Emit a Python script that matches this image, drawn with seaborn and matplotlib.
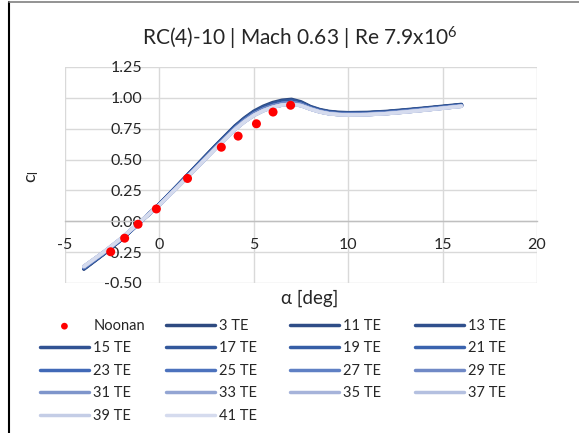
import matplotlib
matplotlib.use("Agg")
import matplotlib.pyplot as plt
import seaborn as sns
from matplotlib.lines import Line2D

# wind tunnel data (Noonan)
noonan_alpha = [-2.58, -1.84, -1.13, -0.16, 1.49, 3.28, 4.17, 5.14, 6.02, 6.95]
noonan_cl = [-0.247, -0.137, -0.024, 0.10, 0.347, 0.60, 0.69, 0.79, 0.885, 0.94]

# CFD lift curves for the trailing-edge refinement study
alpha = [-4, -3, -2, -1, 0, 1, 2, 3, 4, 4.5, 5, 5.5, 6, 6.5, 7, 7.5, 8,
         8.5, 9, 9.5, 10, 11, 12, 13, 14, 15, 16]
cl_3te = [-0.388, -0.272, -0.147, -0.006, 0.14, 0.297, 0.458, 0.618, 0.772,
          0.837, 0.892, 0.932, 0.962, 0.981, 0.988, 0.968, 0.93, 0.905, 0.89,
          0.883, 0.88, 0.882, 0.89, 0.903, 0.917, 0.932, 0.947]
cl_11_17te = [-0.383, -0.268, -0.145, -0.005, 0.139, 0.295, 0.454, 0.613, 0.766,
              0.83, 0.884, 0.923, 0.952, 0.971, 0.979, 0.96, 0.924, 0.9,
              0.885, 0.878, 0.876, 0.878, 0.886, 0.899, 0.913, 0.928, 0.943]
cl_19_29te = [-0.374, -0.262, -0.14, -0.003, 0.135, 0.288, 0.445, 0.602, 0.754,
              0.817, 0.871, 0.909, 0.937, 0.955, 0.963, 0.948, 0.916, 0.892,
              0.877, 0.87, 0.868, 0.87, 0.878, 0.891, 0.906, 0.921, 0.937]
cl_31_41te = [-0.366, -0.256, -0.136, -0.001, 0.132, 0.283, 0.438, 0.594, 0.744,
              0.806, 0.858, 0.896, 0.924, 0.942, 0.949, 0.937, 0.909, 0.886,
              0.871, 0.864, 0.862, 0.864, 0.872, 0.885, 0.9, 0.916, 0.932]

te_counts = [3, 11, 13, 15, 17, 19, 21, 23, 25, 27, 29, 31, 33, 35, 37, 39, 41]
te_curves = [cl_3te] + [cl_11_17te] * 4 + [cl_19_29te] * 6 + [cl_31_41te] * 6
te_colors = ["#2E4A80", "#2F4D87", "#30508D", "#315393", "#33589B", "#365EA6",
             "#3A63AE", "#4169B7", "#4C72BD", "#5F80C4", "#7089C6", "#7E95CB",
             "#93A5D3", "#A6B3DA", "#B4C0E0", "#C4CDE6", "#D5DBEE"]

sns.set_theme(style="white")
plt.rcParams["font.family"] = ["Lato", "DejaVu Sans"]
plt.rcParams["axes.unicode_minus"] = False
plt.rcParams["mathtext.default"] = "regular"
txt = "#262626"

fig = plt.figure(figsize=(5.79, 4.33), dpi=100)
ax = fig.add_axes([65 / 579, 1 - 283 / 433, 472 / 579, 216 / 433])

for n, cl, col in zip(te_counts, te_curves, te_colors):
    sns.lineplot(x=alpha, y=cl, color=col, lw=2.5, ax=ax, label=f"{n} TE",
                 solid_capstyle="round", zorder=3)
sns.scatterplot(x=noonan_alpha, y=noonan_cl, color="red", s=42,
                edgecolor="none", ax=ax, label="Noonan", zorder=5)
if ax.get_legend():
    ax.get_legend().remove()

ax.set_xlim(-5, 20)
ax.set_ylim(-0.5, 1.25)
ax.set_xticks([-5, 0, 5, 10, 15, 20])
ax.set_yticks([-0.5, -0.25, 0, 0.25, 0.5, 0.75, 1.0, 1.25])
ax.set_yticklabels([f"{v:.2f}" for v in ax.get_yticks()])
ax.grid(True, color="#D9D9D9", lw=1.0)
ax.set_axisbelow(True)
for s in ["top", "right"]:
    ax.spines[s].set_visible(False)
ax.spines["left"].set_position("zero")
ax.spines["left"].set_color("none")
ax.spines["bottom"].set_position("zero")
ax.spines["bottom"].set_color("#BFBFBF")
ax.spines["bottom"].set_linewidth(1.0)
ax.tick_params(axis="both", length=0, labelsize=11.5, labelcolor=txt)
ax.tick_params(axis="y", pad=12.5)
ax.tick_params(axis="x", pad=12)
ax.set_xlabel("")
ax.set_ylabel("")

fig.text(300 / 579, 1 - 38 / 433, r"RC(4)-10 | Mach 0.63 | Re 7.9x10$^{6}$",
         ha="center", va="center", fontsize=15, color=txt)
fig.text(310 / 579, 1 - 298 / 433, "α [deg]", ha="center", va="center",
         fontsize=13.5, color=txt)
fig.text(33 / 579, 1 - 177 / 433, r"c$_{l}$", ha="center", va="center",
         rotation=90, fontsize=13, color=txt)

# legend, row-major in 4 columns like the spreadsheet
handles, labels = ax.get_legend_handles_labels()
lookup = dict(zip(labels, handles))
order = ["Noonan"] + [f"{n} TE" for n in te_counts]
col_x = [40, 166, 290, 415]
for j, x0 in enumerate(col_x):
    labs = order[j::4]
    fig.legend([lookup[l] for l in labs], labs, loc="upper left",
               bbox_to_anchor=(x0 / 579, 1 - 319 / 433), frameon=False,
               borderpad=0, borderaxespad=0, handlelength=3.35,
               handletextpad=0.3, labelspacing=0.58, fontsize=10.5,
               markerscale=0.75, labelcolor=txt)

# chart frame edges
fig.add_artist(Line2D([9 / 579, 9 / 579], [0, 1 - 2 / 433], color="black", lw=1.5))
fig.add_artist(Line2D([9 / 579, 1], [1 - 2 / 433, 1 - 2 / 433], color="#808080", lw=1.2))

fig.savefig("out.png", dpi=100)
